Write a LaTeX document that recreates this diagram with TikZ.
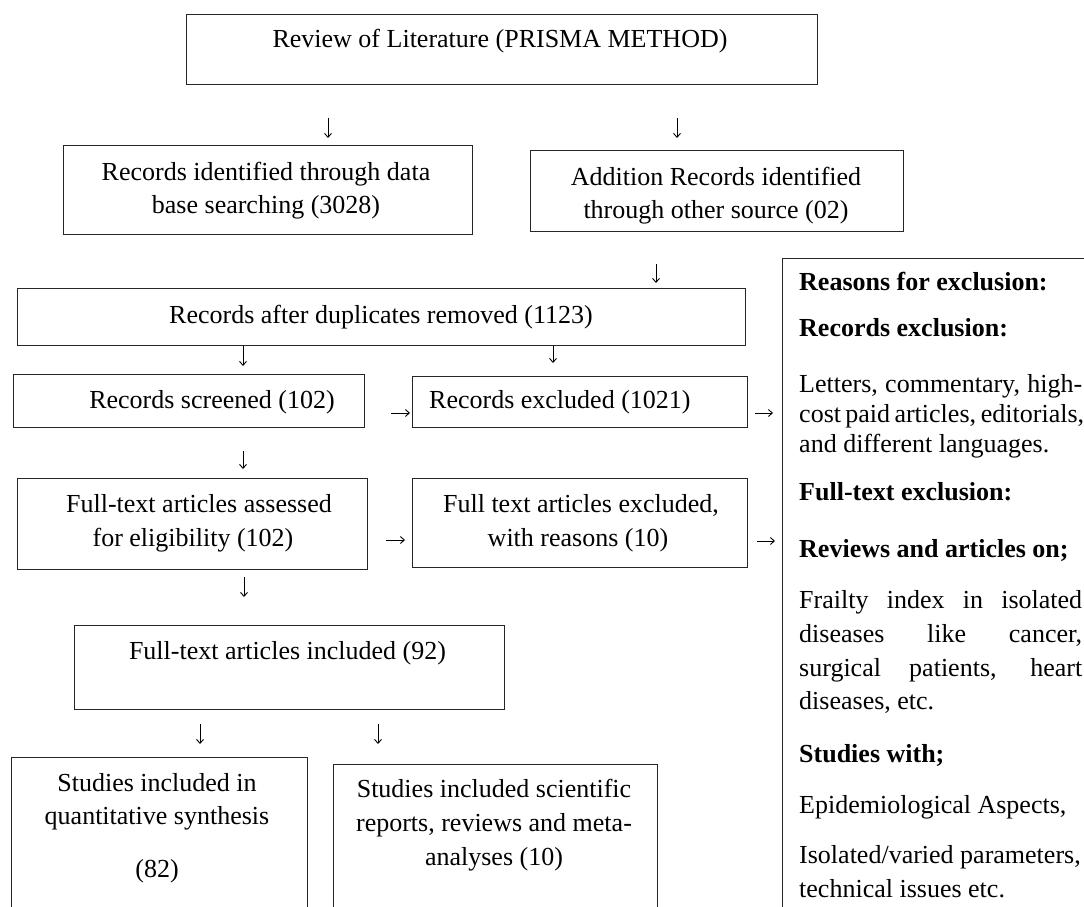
\documentclass[tikz,border=0pt]{standalone}
\usepackage{fontspec}
\setmainfont{Liberation Serif}
\usetikzlibrary{arrows.meta}
\newcommand\myfs{\fontsize{26pt}{33pt}\selectfont}
\tikzset{
  box/.style={draw=black!85, line width=1.1pt, rectangle, inner sep=0pt, anchor=north west},
  txt/.style={anchor=base, inner sep=0pt, font=\myfs, text=black},
  ltxt/.style={anchor=base west, inner sep=0pt, font=\myfs, text=black},
  btxt/.style={ltxt, font=\myfs\bfseries},
  arr/.style={draw=black, line width=0.9pt, -{Straight Barb[length=4pt,width=7pt]}},
}
\begin{document}
\begin{tikzpicture}[x=1pt,y=-1pt]
\useasboundingbox (0,0) rectangle (1084,907);
\clip (0,0) rectangle (1084,907);

% boxes
\node[box, minimum width=631pt, minimum height=70pt] (top) at (186,14) {};
\node[box, minimum width=409pt, minimum height=89pt] (recid) at (63,145) {};
\node[box, minimum width=373pt, minimum height=81pt] (addrec) at (530,150) {};
\node[box, minimum width=728pt, minimum height=57pt] (dup) at (17,288) {};
\node[box, minimum width=351pt, minimum height=53pt] (screened) at (13,374) {};
\node[box, minimum width=335pt, minimum height=51pt] (excl) at (412,376) {};
\node[box, minimum width=350pt, minimum height=91pt] (assessed) at (17,478) {};
\node[box, minimum width=335pt, minimum height=89pt] (ftexcl) at (412,478) {};
\node[box, minimum width=430pt, minimum height=84pt] (incl) at (74,625) {};
\node[box, minimum width=296pt, minimum height=170pt] (quant) at (11,757) {};
\node[box, minimum width=324pt, minimum height=170pt] (sci) at (333,764) {};
\node[box, minimum width=330pt, minimum height=680pt] (reasons) at (782,258) {};

% box texts
\node[txt] (top-t) at (500,48) {Review of Literature (PRISMA METHOD)};
\node[txt] (recid-t1) at (266,180) {Records identified through data};
\node[txt] (recid-t2) at (266,213) {base searching (3028)};
\node[txt] (addrec-t1) at (716,185) {Addition Records identified};
\node[txt] (addrec-t2) at (716,218) {through other source (02)};
\node[txt] (dup-t) at (381,323) {Records after duplicates removed (1123)};
\node[txt] (screened-t) at (212,408) {Records screened (102)};
\node[ltxt] (excl-t) at (429,408) {Records excluded (1021)};
\node[txt] (assessed-t1) at (199,512) {Full-text articles assessed};
\node[txt] (assessed-t2) at (193,546) {for eligibility (102)};
\node[txt] (ftexcl-t1) at (581,512) {Full text articles excluded,};
\node[txt] (ftexcl-t2) at (578,546) {with reasons (10)};
\node[txt] (incl-t) at (287.5,659) {Full-text articles included (92)};
\node[txt] (quant-t1) at (157,791) {Studies included in};
\node[txt] (quant-t2) at (157,824) {quantitative synthesis};
\node[txt] (quant-t3) at (157,877) {(82)};
\node[txt] (sci-t1) at (494,797) {Studies included scientific};
\node[txt] (sci-t2) at (494,831) {reports, reviews and meta-};
\node[txt] (sci-t3) at (494,865) {analyses (10)};

% reasons panel
\node[btxt] (r1) at (799,290) {Reasons for exclusion:};
\node[btxt] (r2) at (799,336) {Records exclusion:};
\node[ltxt] (r3) at (799,392) {\makebox[283pt][s]{Letters, commentary, high-}};
\node[ltxt] (r4) at (799,422) {\makebox[283pt][s]{cost paid articles, editorials,}};
\node[ltxt] (r5) at (799,452) {and different languages.};
\node[btxt] (r6) at (799,500) {Full-text exclusion:};
\node[btxt] (r7) at (799,557) {Reviews and articles on;};
\node[ltxt] (r8) at (799,608) {\makebox[283pt][s]{Frailty index in isolated}};
\node[ltxt] (r9) at (799,642) {\makebox[283pt][s]{diseases like cancer,}};
\node[ltxt] (r10) at (799,676) {\makebox[283pt][s]{surgical patients, heart}};
\node[ltxt] (r11) at (799,709) {diseases, etc.};
\node[btxt] (r12) at (799,762) {Studies with;};
\node[ltxt] (r13) at (799,813) {Epidemiological Aspects,};
\node[ltxt] (r14) at (799,863) {Isolated/varied parameters,};
\node[ltxt] (r15) at (799,897) {technical issues etc.};

% arrows
\coordinate (a1s) at (328,118);  \coordinate (a1e) at (328,138);
\coordinate (a2s) at (677,118);  \coordinate (a2e) at (677,138);
\coordinate (a3s) at (656,264);  \coordinate (a3e) at (656,283);
\coordinate (a4s) at (243,346);  \coordinate (a4e) at (243,366);
\coordinate (a5s) at (553,346);  \coordinate (a5e) at (553,363);
\coordinate (a6s) at (391,413);  \coordinate (a6e) at (410,413);
\coordinate (a7s) at (755,413);  \coordinate (a7e) at (773,413);
\coordinate (a8s) at (243,451);  \coordinate (a8e) at (243,469);
\coordinate (a9s) at (386,540);  \coordinate (a9e) at (405,540);
\coordinate (a10s) at (757,541); \coordinate (a10e) at (775,541);
\coordinate (a11s) at (244,577); \coordinate (a11e) at (244,597);
\coordinate (a12s) at (200,724); \coordinate (a12e) at (200,744);
\coordinate (a13s) at (378,724); \coordinate (a13e) at (378,744);
\foreach \i in {1,...,13} { \draw[arr] (a\i s) -- (a\i e); }
\end{tikzpicture}
\end{document}
